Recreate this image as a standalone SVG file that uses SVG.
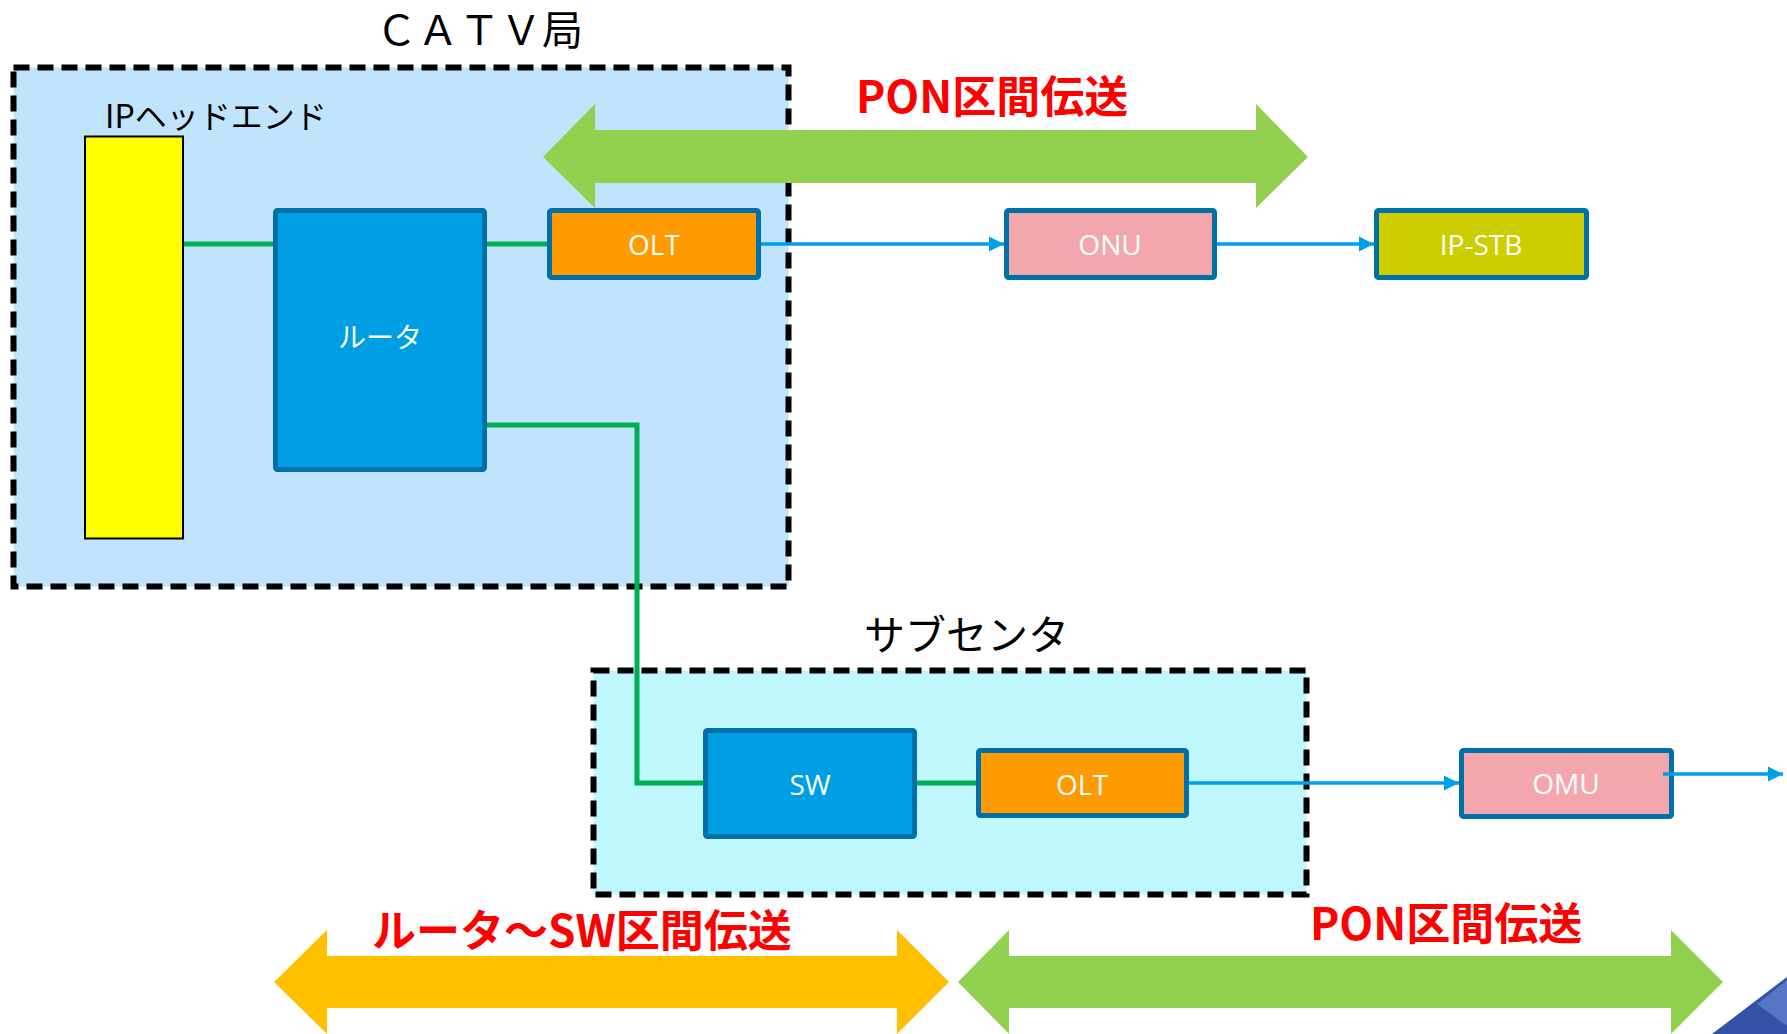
<svg xmlns="http://www.w3.org/2000/svg" width="1787" height="1034" viewBox="0 0 1787 1034">
<defs>
<style>
.container{stroke:#000;stroke-width:6;stroke-dasharray:16 8}
.box{stroke:#0070A8;stroke-width:5}
.lbl{font-family:"Open Sans","Noto Sans",sans-serif;font-size:28px;fill:#fff;text-anchor:middle}
.jp{font-family:"Noto Sans CJK JP","Noto Sans",sans-serif}
.title{font-family:"Noto Sans CJK JP",sans-serif;font-size:41px;fill:#000}
.red{font-family:"Noto Sans CJK JP",sans-serif;font-size:44px;font-weight:bold;fill:#FF0000}
.gl{stroke:#00B050;stroke-width:5;fill:none}
.bl{stroke:#00A0E9;stroke-width:3.5;fill:none;marker-end:url(#ah)}
</style>
<marker id="ah" markerUnits="userSpaceOnUse" markerWidth="16" markerHeight="16" refX="15" refY="8" orient="auto">
<path d="M0,0.5 L15,8 L0,15.5 Z" fill="#00A0E9"/>
</marker>
</defs>
<rect width="1787" height="1034" fill="#fff"/>

<g id="catv">
<rect class="container" x="13.5" y="67.5" width="775" height="519" fill="#C0E4FB"/>
<text class="title" x="376" y="45" font-size="38" letter-spacing="0.5">ＣＡＴＶ局</text>
</g>
<g id="subcenter">
<rect class="container" x="593.5" y="670.5" width="713" height="224" fill="#BFF7FD"/>
<text class="title" x="864" y="650">サブセンタ</text>
</g>

<g id="pon-arrow-top">
<polygon points="543,157 595,104 595,130 1256,130 1256,104 1308,157 1256,208 1256,183 595,183 595,208" fill="#92D050"/>
<text class="red" x="856" y="113">PON区間伝送</text>
</g>
<g id="router-sw-arrow">
<polygon points="274,982 327,930 327,956 897,956 897,930 949,982 897,1034 897,1008 327,1008 327,1034" fill="#FFC000"/>
<text class="red" x="372" y="947">ルータ～SW区間伝送</text>
</g>
<g id="pon-arrow-bottom">
<polygon points="958,982 1009,930 1009,956 1671,956 1671,930 1723,982 1671,1034 1671,1008 1009,1008 1009,1034" fill="#92D050"/>
<text class="red" x="1310" y="940">PON区間伝送</text>
</g>

<g id="connectors">
<line class="gl" x1="184" y1="244" x2="275" y2="244"/>
<line class="gl" x1="485" y1="244" x2="549" y2="244"/>
<polyline class="gl" points="485,425 637,425 637,783 705,783"/>
<line class="gl" x1="915" y1="783" x2="978" y2="783"/>
<line class="bl" x1="761" y1="244" x2="1004" y2="244"/>
<line class="bl" x1="1217" y1="244" x2="1374" y2="244"/>
<line class="bl" x1="1189" y1="783" x2="1459" y2="783"/>
</g>

<g id="headend">
<rect x="85" y="136.5" width="98" height="402" fill="#FFFF00" stroke="#000" stroke-width="2"/>
<text class="jp" x="105" y="128" font-size="32" fill="#000">IPヘッドエンド</text>
</g>
<g id="router">
<rect class="box" x="275.5" y="210.5" width="209" height="259" rx="2" fill="#009EE2"/>
<text class="lbl jp" x="380" y="348">ルータ</text>
</g>
<g id="olt1">
<rect class="box" x="549.5" y="210.5" width="209" height="67" rx="2" fill="#FF9A00"/>
<text class="lbl" x="654" y="255">OLT</text>
</g>
<g id="onu">
<rect class="box" x="1006.5" y="210.5" width="208" height="67" rx="2" fill="#F3A7AD"/>
<text class="lbl" x="1110" y="255">ONU</text>
</g>
<g id="ipstb">
<rect class="box" x="1376.5" y="210.5" width="210" height="67" rx="2" fill="#CDCD00"/>
<text class="lbl" x="1481" y="255">IP-STB</text>
</g>
<g id="sw">
<rect class="box" x="705.5" y="730.5" width="209" height="106" rx="2" fill="#009EE2"/>
<text class="lbl" x="810" y="795">SW</text>
</g>
<g id="olt2">
<rect class="box" x="978.5" y="750.5" width="208" height="65" rx="2" fill="#FF9A00"/>
<text class="lbl" x="1082" y="795">OLT</text>
</g>
<g id="omu">
<rect class="box" x="1461.5" y="750.5" width="210" height="66" rx="2" fill="#F3A7AD"/>
<text class="lbl" x="1566" y="794">OMU</text>
</g>
<g id="omu-out">
<line class="bl" x1="1663" y1="774" x2="1783" y2="774"/>
</g>

<g id="corner">
<polygon points="1712,1034 1787,977 1787,1034" fill="#3352A6"/>
<polygon points="1757,1004 1787,980 1787,1026" fill="#5574C2"/>
</g>
</svg>
